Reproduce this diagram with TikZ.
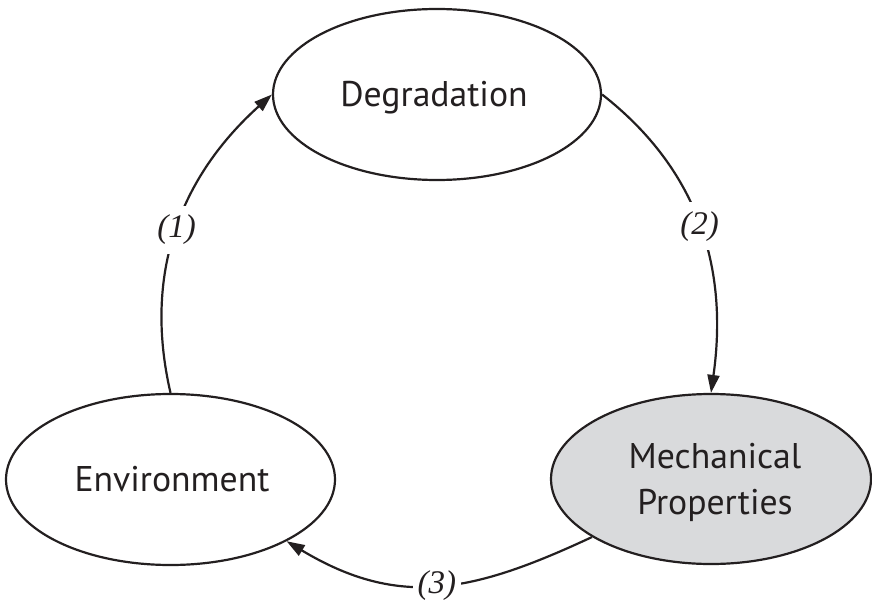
\documentclass[tikz,border=0pt]{standalone}
\usepackage{fontspec}
\setmainfont{PT Sans}
\newfontfamily\numfont{Liberation Serif}
\usetikzlibrary{shapes.geometric,arrows.meta,calc}
\definecolor{ink}{RGB}{35,31,32}
\definecolor{mechfill}{RGB}{217,218,220}
\begin{document}
\begin{tikzpicture}[x=1pt,y=1pt,
  oval/.style={ellipse, draw=ink, line width=2.2pt, inner sep=0pt},
  txt/.style={font=\fontsize{35.7}{46}\selectfont, text=ink, inner sep=0pt},
  num/.style={font=\fontsize{33}{33}\numfont\itshape, text=ink, fill=white, inner xsep=5pt, inner ysep=9pt},
  conn/.style={draw=ink, line width=2.2pt, -{Triangle[length=18pt,width=12pt]}}]
\useasboundingbox (0,0) rectangle (872,606);
% ellipses
\node[oval, minimum width=328pt, minimum height=171pt] (deg) at (437,511.5) {};
\node[oval, minimum width=329pt, minimum height=171pt] (env) at (170.5,126.5) {};
\node[oval, fill=mechfill, minimum width=320pt, minimum height=170pt] (mech) at (711,127) {};
% texts
\node[txt, anchor=base] (degt) at (434,499) {Degradation};
\node[txt, anchor=base] (envt) at (172,115) {Environment};
\node[txt, anchor=base] (mecht1) at (715,138) {Mechanical};
\node[txt, anchor=base] (mecht2) at (715,92) {Properties};
% connectors
\draw[conn] (env.north) to[out=103,in=222] node[num, pos=0.5] (l1) {(1)} (deg.west);
\draw[conn] (deg.east) to[out=-38,in=82] node[num, pos=0.5] (l2) {(2)} (mech.north);
\draw[conn] (mech.206) to[out=205,in=-31, looseness=1.1] node[num, pos=0.5] (l3) {(3)} (env.-28);
\end{tikzpicture}
\end{document}
